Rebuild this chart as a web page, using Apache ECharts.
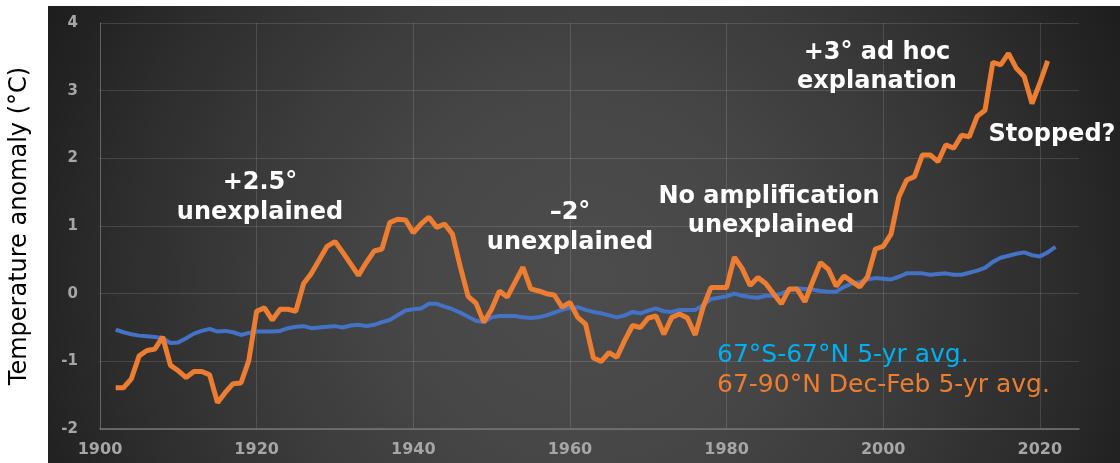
<!DOCTYPE html>
<html>
<head>
<meta charset="utf-8">
<script src="https://cdn.jsdelivr.net/npm/echarts@6/dist/echarts.min.js"></script>
<style>
  html, body { margin: 0; padding: 0; background: #fff; }
  #chart-container { width: 1120px; height: 463px; }
</style>
</head>
<body>
<div id="chart-container"></div>
<script>
// years 1902..2022
const years = []
for (let y = 1902; y <= 2022; y++) years.push(y)

// 67°S-67°N 5-yr avg.
const globalAvg = [
  -0.53, -0.57, -0.60, -0.62, -0.63, -0.64, -0.66, -0.73, -0.72, -0.66,
  -0.59, -0.55, -0.52, -0.56, -0.55, -0.57, -0.61, -0.58, -0.56, -0.56,
  -0.56, -0.55, -0.51, -0.49, -0.48, -0.51, -0.50, -0.49, -0.48,
  -0.50, -0.47, -0.46, -0.48, -0.46, -0.42, -0.39, -0.32, -0.25, -0.23,
  -0.22, -0.15, -0.15, -0.19, -0.23, -0.28, -0.34, -0.40, -0.42, -0.35,
  -0.33, -0.33, -0.33, -0.35, -0.36, -0.35, -0.32, -0.28, -0.24, -0.21,
  -0.20, -0.24, -0.27, -0.29, -0.32, -0.35, -0.32, -0.27, -0.29, -0.25,
  -0.22, -0.26, -0.27, -0.24, -0.24, -0.24, -0.17, -0.08, -0.06, -0.04,
  0.00, -0.03, -0.05, -0.06, -0.03, -0.03, 0.00, 0.05, 0.08, 0.07,
  0.06, 0.04, 0.03, 0.03, 0.10, 0.15, 0.17, 0.21, 0.23, 0.22,
  0.21, 0.25, 0.30, 0.30, 0.30, 0.28, 0.29, 0.30, 0.28, 0.28,
  0.31, 0.34, 0.38, 0.47, 0.53, 0.56, 0.59, 0.61, 0.57, 0.55,
  0.61, 0.69
]

// 67-90°N Dec-Feb 5-yr avg.
const arcticWinter = [
  -1.39, -1.39, -1.26, -0.92, -0.84, -0.82, -0.64, -1.06, -1.14, -1.24,
  -1.15, -1.15, -1.20, -1.61, -1.46, -1.33, -1.32, -0.99, -0.26, -0.21,
  -0.39, -0.23, -0.23, -0.26, 0.15, 0.30, 0.50, 0.70, 0.77,
  0.61, 0.44, 0.27, 0.46, 0.63, 0.66, 1.05, 1.10, 1.09, 0.90,
  1.03, 1.13, 0.98, 1.03, 0.88, 0.40, -0.04, -0.14, -0.42, -0.23,
  0.04, -0.05, 0.17, 0.39, 0.07, 0.04, 0.00, -0.02, -0.20, -0.13,
  -0.35, -0.45, -0.95, -1.00, -0.87, -0.94, -0.69, -0.47, -0.50, -0.36,
  -0.33, -0.60, -0.35, -0.30, -0.36, -0.61, -0.20, 0.09, 0.09, 0.09,
  0.54, 0.37, 0.12, 0.24, 0.15, 0.00, -0.15, 0.07, 0.07, -0.12,
  0.18, 0.46, 0.36, 0.11, 0.26, 0.18, 0.10, 0.25, 0.66, 0.70,
  0.88, 1.43, 1.68, 1.73, 2.05, 2.05, 1.95, 2.20, 2.15, 2.34,
  2.32, 2.62, 2.71, 3.42, 3.38, 3.55, 3.33, 3.21, 2.81, 3.11,
  3.44
]

const pairs = arr => years.map((y, i) => [y, arr[i]])

const dom = document.getElementById('chart-container')
const myChart = echarts.init(dom, null, { renderer: 'canvas' })

const bold = { fill: '#fff', font: 'bold 24px "DejaVu Sans"', textAlign: 'center', textVerticalAlign: 'middle' }

const options = {
  animation: false,
  backgroundColor: '#fff',
  grid: { left: 100, right: 41, top: 23, bottom: 34 },
  graphic: [
    {
      type: 'rect',
      z: -10,
      shape: { x: 48, y: 6, width: 1072, height: 457 },
      style: {
        fill: new echarts.graphic.RadialGradient(0.5, 0.6, 1.3, [
          { offset: 0, color: '#4c4c4c' },
          { offset: 0.3, color: '#474747' },
          { offset: 0.55, color: '#3b3b3b' },
          { offset: 0.8, color: '#2c2c2c' },
          { offset: 1, color: '#1e1e1e' }
        ])
      }
    },
    { type: 'text', x: 877, y: 53, z: 10, style: Object.assign({ text: '+3° ad hoc' }, bold) },
    { type: 'text', x: 877, y: 82, z: 10, style: Object.assign({ text: 'explanation' }, bold) },
    { type: 'text', x: 260, y: 183, z: 10, style: Object.assign({ text: '+2.5°' }, bold) },
    { type: 'text', x: 260, y: 213, z: 10, style: Object.assign({ text: 'unexplained' }, bold) },
    { type: 'text', x: 570, y: 213, z: 10, style: Object.assign({ text: '\u20132°' }, bold) },
    { type: 'text', x: 570, y: 243, z: 10, style: Object.assign({ text: 'unexplained' }, bold) },
    { type: 'text', x: 769, y: 197, z: 10, style: Object.assign({ text: 'No amplification' }, bold) },
    { type: 'text', x: 771, y: 226, z: 10, style: Object.assign({ text: 'unexplained' }, bold) },
    { type: 'text', x: 1052, y: 135, z: 10, style: Object.assign({ text: 'Stopped?' }, bold) },
    {
      type: 'text', x: 717, y: 355, z: 10,
      style: { text: '67°S-67°N 5-yr avg.', fill: '#00b0f0', font: '25px "DejaVu Sans"', textVerticalAlign: 'middle' }
    },
    {
      type: 'text', x: 717, y: 385, z: 10,
      style: { text: '67-90°N Dec-Feb 5-yr avg.', fill: '#ed7d31', font: '25px "DejaVu Sans"', textVerticalAlign: 'middle' }
    }
  ],
  xAxis: {
    type: 'value',
    min: 1900,
    max: 2025,
    interval: 20,
    axisLine: { onZero: false, lineStyle: { color: '#767676', width: 1.5 } },
    axisTick: { show: false },
    axisLabel: {
      margin: 13,
      color: '#a6a6a6',
      fontFamily: 'DejaVu Sans',
      fontWeight: 'bold',
      fontSize: 16,
      showMaxLabel: false,
      formatter: v => (v % 20 === 0 ? String(v) : '')
    },
    splitLine: { show: true, showMaxLine: false, lineStyle: { color: 'rgba(255,255,255,0.13)' } }
  },
  yAxis: {
    type: 'value',
    min: -2,
    max: 4,
    interval: 1,
    name: 'Temperature anomaly (°C)',
    nameLocation: 'middle',
    nameRotate: 90,
    nameGap: 68,
    nameTextStyle: { color: '#000', fontFamily: 'DejaVu Sans', fontSize: 24 },
    axisLine: { show: true, lineStyle: { color: 'rgba(255,255,255,0.18)' } },
    axisTick: { show: false },
    axisLabel: {
      margin: 22,
      color: '#a6a6a6',
      fontFamily: 'DejaVu Sans',
      fontWeight: 'bold',
      fontSize: 15
    },
    splitLine: { lineStyle: { color: 'rgba(255,255,255,0.13)' } }
  },
  series: [
    {
      name: '67°S-67°N 5-yr avg.',
      type: 'line',
      showSymbol: false,
      color: '#4472c4',
      lineStyle: { width: 4, color: '#4472c4' },
      data: pairs(globalAvg)
    },
    {
      name: '67-90°N Dec-Feb 5-yr avg.',
      type: 'line',
      showSymbol: false,
      color: '#ed7d31',
      lineStyle: { width: 5, color: '#ed7d31' },
      data: pairs(arcticWinter)
    }
  ]
}

myChart.setOption(options)
window.addEventListener('resize', myChart.resize)
</script>
</body>
</html>
